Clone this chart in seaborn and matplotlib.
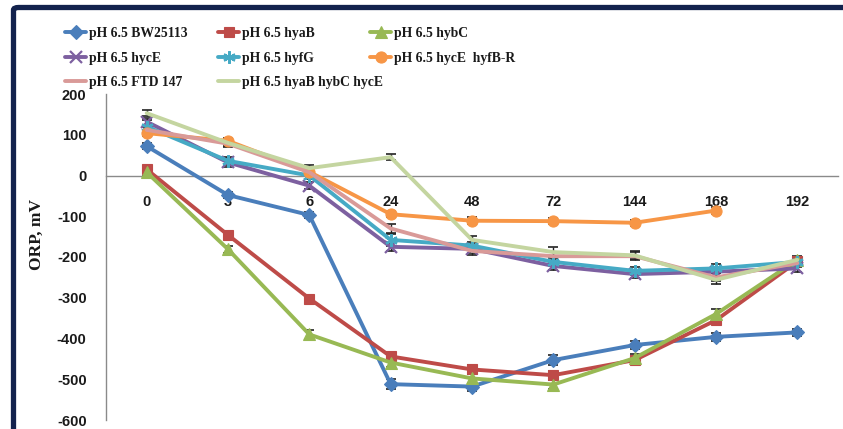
import numpy as np
import pandas as pd
import matplotlib
matplotlib.use("Agg")
import matplotlib.pyplot as plt
from matplotlib.patches import FancyBboxPatch
import seaborn as sns

# Sampling times (h) and ORP readings (mV) for each strain at pH 6.5
times = ["0", "3", "6", "24", "48", "72", "144", "168", "192"]

bw25113 = [72, -48, -97, -512, -518, -453, -416, -396, -385]
hyaB = [15, -146, -302, -444, -476, -490, -453, -355, -211]
hybC = [8, -181, -390, -459, -498, -513, -448, -340, -207]
hycE = [132, 32, -25, -175, -180, -222, -242, -236, -228]
hyfG = [120, 36, 0, -158, -172, -212, -234, -228, -212]
hycE_hyfBR = [104, 85, 9, -95, -111, -112, -116, -86, np.nan]
ftd147 = [112, 78, 8, -130, -185, -198, -198, -250, -215]
hyaB_hybC_hycE = [153, 80, 18, 45, -158, -188, -196, -256, -207]

# Standard deviations (mV)
sd_bw25113 = [8, 8, 8, 12, 10, 12, 10, 10, 8]
sd_hyaB = [8, 8, 8, 10, 10, 10, 10, 10, 8]
sd_hybC = [8, 8, 10, 10, 10, 10, 10, 12, 8]
sd_hycE = [10, 10, 8, 10, 10, 10, 10, 10, 10]
sd_hyfG = [15, 10, 8, 15, 10, 10, 10, 12, 10]
sd_hycE_hyfBR = [8, 8, 8, 8, 8, 8, 8, 8, np.nan]
sd_ftd147 = [8, 8, 8, 10, 10, 10, 10, 10, 10]
sd_hyaB_hybC_hycE = [8, 8, 8, 8, 10, 12, 10, 10, 10]

series = [
    ("pH 6.5 BW25113", bw25113, sd_bw25113, "#4a7ebb", "D", 7),
    ("pH 6.5 hyaB", hyaB, sd_hyaB, "#be4b48", "s", 7.5),
    ("pH 6.5 hybC", hybC, sd_hybC, "#98b954", "^", 8),
    ("pH 6.5 hycE", hycE, sd_hycE, "#7d60a0", "x", 8),
    ("pH 6.5 hyfG", hyfG, sd_hyfG, "#46aac5", (6, 2, 0), 9),
    ("pH 6.5 hycE  hyfB-R", hycE_hyfBR, sd_hycE_hyfBR, "#f79646", "o", 8),
    ("pH 6.5 FTD 147", ftd147, sd_ftd147, "#d99a98", None, 0),
    ("pH 6.5 hyaB hybC hycE", hyaB_hybC_hycE, sd_hyaB_hybC_hycE, "#c4d5a0", None, 0),
]

sns.set_theme(style="white")
plt.rcParams["font.family"] = ["Liberation Sans", "DejaVu Sans"]
plt.rcParams["axes.unicode_minus"] = False

fig = plt.figure(figsize=(8.43, 4.29), dpi=100)
ax = fig.add_axes([106 / 843, 1 - 420 / 429, (838 - 106) / 843, (420 - 94) / 429])

pos = np.arange(len(times))
handles = {}
for name, vals, sd, color, marker, ms in series:
    df = pd.DataFrame({"t": pos, "orp": vals}).dropna()
    sns.lineplot(data=df, x="t", y="orp", ax=ax, color=color, linewidth=2.8,
                 marker=marker if marker is not None else None,
                 markersize=ms, markeredgewidth=1.6 if marker in ("x", (6, 2, 0)) else 0.8,
                 markeredgecolor=color, label=name, legend=False, zorder=3)
    handles[name] = ax.lines[-1]
    ax.errorbar(df["t"], df["orp"], yerr=np.asarray(sd)[df.index], fmt="none",
                ecolor="#222222", elinewidth=1.0, capsize=3.5, capthick=1.2, zorder=2)

ax.set_xlim(-0.5, 8.5)
ax.set_ylim(-600, 200)
ax.set_yticks(np.arange(-600, 201, 100))
ax.set_xticks(pos)
ax.set_xticklabels(times)
ax.set_xlabel("")
ax.set_ylabel("")

for s in ("top", "right"):
    ax.spines[s].set_visible(False)
ax.spines["bottom"].set_position(("data", 0))
for s in ("bottom", "left"):
    ax.spines[s].set_color("#8a8a8a")
    ax.spines[s].set_linewidth(1.0)
ax.tick_params(axis="x", length=0, pad=14, labelsize=10.5)
ax.tick_params(axis="y", length=0, pad=14, labelsize=10.5)
for lab in ax.get_xticklabels() + ax.get_yticklabels():
    lab.set_fontweight("bold")
    lab.set_color("#1a1a1a")

fig.text(37 / 843, 1 - 234 / 429, "ORP, mV", rotation=90, ha="center", va="center",
         fontsize=12.5, fontweight="bold", family=["Liberation Serif", "DejaVu Serif"],
         color="#1a1a1a")

# Legend: three columns placed above the plot area
columns = [
    (["pH 6.5 BW25113", "pH 6.5 hycE", "pH 6.5 FTD 147"], 65),
    (["pH 6.5 hyaB", "pH 6.5 hyfG", "pH 6.5 hyaB hybC hycE"], 218),
    (["pH 6.5 hybC", "pH 6.5 hycE  hyfB-R"], 370),
]
for names, xpix in columns:
    leg = fig.legend([handles[n] for n in names], names, loc="upper left",
                     bbox_to_anchor=(xpix / 843, 1 - 27 / 429), frameon=False,
                     borderpad=0, borderaxespad=0, handlelength=1.55, handletextpad=0.2,
                     labelspacing=0.85,
                     prop={"family": ["Liberation Serif"], "weight": "bold", "size": 9.8})
    for t in leg.get_texts():
        t.set_color("#1a1a1a")

# Dark outer frame
frame = FancyBboxPatch((13.5 / 843, -0.1), 1.2, 1 - 7.5 / 429 + 0.1,
                       boxstyle="round,pad=0,rounding_size=0.006",
                       transform=fig.transFigure, facecolor="none",
                       edgecolor="#13224d", linewidth=3.8, zorder=10, clip_on=False)
fig.patches.append(frame)

fig.savefig("out.png", dpi=100)
